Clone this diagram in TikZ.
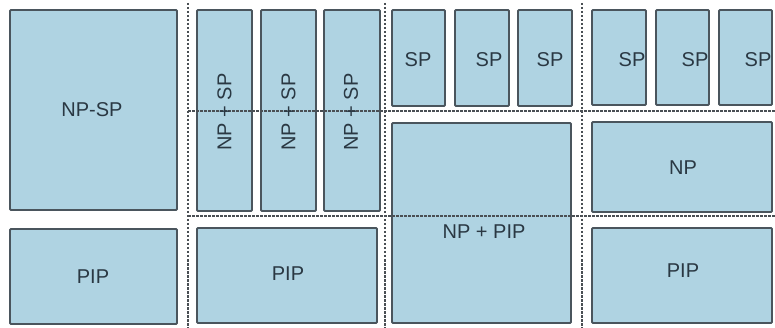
\documentclass[tikz,border=0pt]{standalone}
\usepackage{fontspec}
\setmainfont{Liberation Sans}
\begin{document}
\begin{tikzpicture}[x=1pt,y=-1pt]
\definecolor{boxfill}{HTML}{AFD3E2}
\definecolor{boxline}{HTML}{4A555D}
\definecolor{txt}{HTML}{2A3843}
\definecolor{dotc}{HTML}{4A4F54}
\tikzset{
  box/.style={draw=boxline, fill=boxfill, line width=1.9pt, inner sep=0pt, rounded corners=1pt,
              font=\fontsize{20}{20}\selectfont, text=txt},
  lbl/.style={inner sep=0pt, font=\fontsize{20}{20}\selectfont, text=txt},
  sep/.style={draw=dotc, line width=1.5pt, dash pattern=on 2.5pt off 1.5pt}
}
\useasboundingbox (0,0) rectangle (775,328);
% panel 1
\node[box, minimum width=167pt, minimum height=200pt] (npsp) at (93.5,110) {};
\node[box, minimum width=167pt, minimum height=95pt] (pip1) at (93.5,276.5) {};
% panel 2
\node[box, minimum width=55pt, minimum height=201pt] (c1) at (224.5,110.5) {};
\node[box, minimum width=55pt, minimum height=201pt] (c2) at (288.5,110.5) {};
\node[box, minimum width=56pt, minimum height=201pt] (c3) at (352,110.5) {};
\node[box, minimum width=180pt, minimum height=95pt] (pip2) at (287,275.5) {};
% panel 3
\node[box, minimum width=53pt, minimum height=96pt] (e1) at (418.5,58) {};
\node[box, minimum width=54pt, minimum height=96pt] (e2) at (482,58) {};
\node[box, minimum width=54pt, minimum height=96pt] (e3) at (545,58) {};
\node[box, minimum width=179pt, minimum height=200pt] (nppip) at (481.5,223) {};
% panel 4
\node[box, minimum width=54pt, minimum height=95pt] (g1) at (619,57.5) {};
\node[box, minimum width=53pt, minimum height=95pt] (g2) at (682.5,57.5) {};
\node[box, minimum width=53pt, minimum height=95pt] (g3) at (745.5,57.5) {};
\node[box, minimum width=180pt, minimum height=90pt] (np) at (682,167) {};
\node[box, minimum width=180pt, minimum height=95pt] (pip3) at (682,275.5) {};
% separators
\coordinate (v1t) at (188,3); \coordinate (v1b) at (188,328);
\coordinate (v2t) at (385,3); \coordinate (v2b) at (385,328);
\coordinate (v3t) at (582,3); \coordinate (v3b) at (582,328);
\coordinate (h1l) at (188,111); \coordinate (h1r) at (775,111);
\coordinate (h2l) at (188,216); \coordinate (h2r) at (775,216);
\draw[sep] (v1t) -- (v1b);
\draw[sep] (v2t) -- (v2b);
\draw[sep] (v3t) -- (v3b);
\draw[sep] (h1l) -- (h1r);
\draw[sep] (h2l) -- (h2r);
% labels
\node[lbl] (tnpsp) at (92,110) {NP-SP};
\node[lbl] (tpip1) at (93,277) {PIP};
\node[lbl] (tpip2) at (288,274) {PIP};
\node[lbl, rotate=90] (t1) at (224.5,112) {NP + SP};
\node[lbl, rotate=90] (t2) at (288.5,112) {NP + SP};
\node[lbl, rotate=90] (t3) at (351,112) {NP + SP};
\node[lbl] (s1) at (418,60) {SP};
\node[lbl] (s2) at (489,60) {SP};
\node[lbl] (s3) at (550,60) {SP};
\node[lbl] (tnppip) at (484,232) {NP + PIP};
\node[lbl] (s4) at (632,60) {SP};
\node[lbl] (s5) at (695,60) {SP};
\node[lbl] (s6) at (758,60) {SP};
\node[lbl] (tnp) at (683,168) {NP};
\node[lbl] (tpip3) at (683,271) {PIP};
\end{tikzpicture}
\end{document}
